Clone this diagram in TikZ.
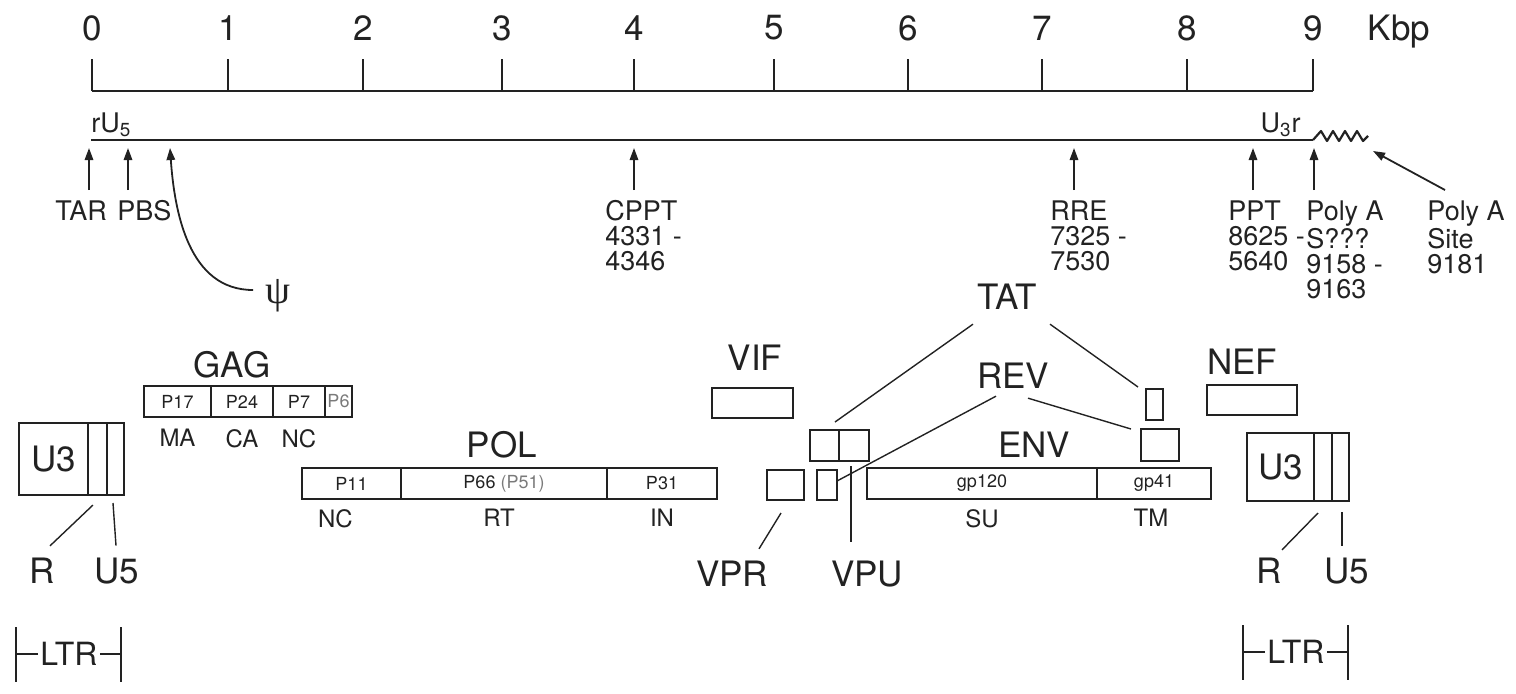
\documentclass[tikz,border=0pt]{standalone}
\usepackage{fontspec}
\setmainfont{TeX Gyre Heros}
\newfontfamily\grkfont{Liberation Serif}
\usetikzlibrary{arrows.meta,positioning}
\definecolor{ink}{HTML}{222222}
\definecolor{faint}{HTML}{7A7A7A}
\tikzset{
  gene/.style={font=\fontsize{17.5}{17.5}\selectfont, inner sep=0pt, text=ink},
  prot/.style={font=\fontsize{12}{12}\selectfont, inner sep=0pt, text=ink},
  seg/.style={rectangle, draw=ink, line width=1pt, outer sep=0pt, inner sep=0pt,
              font=\fontsize{9}{9}\selectfont, text=ink, minimum height=15.5pt},
  site/.style={font=\fontsize{13.5}{12.5}\selectfont, align=left, inner sep=0pt,
               anchor=north west, text=ink},
  arr/.style={-{Triangle[length=6pt,width=4.2pt]}, draw=ink, line width=0.9pt},
  lead/.style={draw=ink, line width=0.7pt},
}

\begin{document}
\begin{tikzpicture}[x=0.5pt, y=-0.5pt]
\useasboundingbox (0,0) rectangle (1516,693);

% kbp scale
\draw[ink, line width=1.25pt] (92,91) -- (1313,91);
\foreach \k/\x in {0/92,1/228,2/363,3/502,4/634,5/774,6/908,7/1042,8/1187,9/1313} {
  \draw[ink, line width=1pt] (\x,91) -- (\x,59);
  \node[gene] (k\k) at (\x,28) {\k};
}
\node[gene, anchor=base] (kbp) at (1399,40) {Kbp};

% provirus
\draw[ink, line width=1pt] (91,140) -- (1313,140);
\draw[ink, line width=1.1pt, line join=round] (1313,140)
  -- (1321,131) -- (1327,141) -- (1333,131) -- (1339,141) -- (1345,131)
  -- (1351,141) -- (1357,131) -- (1363,141) -- (1368,136);
\node[font=\fontsize{13.5}{13.5}\selectfont, inner sep=0pt, anchor=base west, text=ink] (ru5) at (91,132) {rU\textsubscript{5}};
\node[font=\fontsize{13.5}{13.5}\selectfont, inner sep=0pt, anchor=base east, text=ink] (u3r) at (1301,132) {U\textsubscript{3}r};

\coordinate (tarP) at (89,148);
\coordinate (pbsP) at (128,148);
\coordinate (psiP) at (170,148);
\coordinate (cpptP) at (634,148);
\coordinate (rreP) at (1074,148);
\coordinate (pptP) at (1253,148);
\coordinate (polaP) at (1314,148);
\coordinate (pasP) at (1373,151);

\node[site] (tar) at (55,200) {TAR};
\node[site] (pbs) at (117,200) {PBS};
\node[site] (cppt) at (605,200) {CPPT\\4331 -\\4346};
\node[site] (rre) at (1050,200) {RRE\\7325 -\\7530};
\node[site] (ppt) at (1228,200) {PPT\\8625 -\\5640};
\node[site] (pola) at (1306,200) {Poly A\\S???\\9158 -\\9163};
\node[site] (pas) at (1427,200) {Poly A\\Site\\9181};

\draw[arr, shorten <=5pt] (tarP |- tar.north) -- (tarP);
\draw[arr, shorten <=5pt] (pbsP |- pbs.north) -- (pbsP);
\draw[arr, shorten <=5pt] (cpptP |- cppt.north) -- (cpptP);
\draw[arr, shorten <=5pt] (rreP |- rre.north) -- (rreP);
\draw[arr, shorten <=5pt] (pptP |- ppt.north) -- (pptP);
\draw[arr, shorten <=5pt] (polaP |- pola.north) -- (polaP);
\draw[arr] ([shift={(9pt,5pt)}]pas.north west) -- (pasP);

\node[font=\grkfont\fontsize{20}{20}\selectfont, inner sep=0pt, text=ink] (psi) at (278,296) {ψ};
\draw[arr] ([shift={(-6pt,3pt)}]psi.west) to[out=180, in=-86] (psiP);

% gag
\node[gene] (gag) at (232,365) {GAG};
\node[seg, minimum width=33.5pt, anchor=north west] (p17) at (144,386) {P17};
\node[seg, minimum width=31pt, right=0pt of p17] (p24) {P24};
\node[seg, minimum width=26pt, right=0pt of p24] (p7) {P7};
\node[seg, minimum width=13.5pt, right=0pt of p7, text=faint] (p6) {P6};
\node[prot, below=6pt of p17] (ma) {MA};
\node[prot, below=6pt of p24] (ca) {CA};
\node[prot, below=6pt of p7] (ncg) {NC};

% pol
\node[gene] (pol) at (502,445) {POL};
\node[seg, minimum width=49.5pt, anchor=north west] (p11) at (302,468) {P11};
\node[seg, minimum width=103pt, right=0pt of p11] (p66) {P66 \textcolor{faint}{(P51)}};
\node[seg, minimum width=55pt, right=0pt of p66] (p31) {P31};
\node[prot, below=5pt of p11, xshift=-8pt] (ncp) {NC};
\node[prot, below=5pt of p66, xshift=-2.5pt] (rt) {RT};
\node[prot, below=5pt of p31] (in) {IN};

% accessory genes
\node[gene] (vif) at (755,358) {VIF};
\node[seg, minimum width=40.5pt, minimum height=15pt, anchor=north west] (vifbox) at (712,388) {};
\node[seg, minimum width=18.5pt, minimum height=15pt, anchor=north west] (vprbox) at (767,470) {};
\node[seg, minimum width=10pt, minimum height=15pt, anchor=north west] (vpubox) at (817,470) {};
\node[seg, minimum width=14.5pt, anchor=north west] (tr1a) at (810,430) {};
\node[seg, minimum width=15pt, right=0pt of tr1a] (tr1b) {};
\node[seg, minimum width=8.5pt, anchor=north west] (tat2) at (1146,389) {};
\node[seg, minimum width=19pt, minimum height=16pt, anchor=north west] (rev2) at (1141,429) {};
\node[gene] (tat) at (1007,297) {TAT};
\node[gene] (rev) at (1013,376) {REV};
\node[gene] (vprL) at (732,574) {VPR};
\node[gene] (vpuL) at (867,574) {VPU};
\node[gene] (nef) at (1242,362) {NEF};
\node[seg, minimum width=45pt, minimum height=15pt, anchor=north west] (nefbox) at (1207,385) {};

\draw[lead] ([shift={(-17pt,-7pt)}]tat.south) -- ([shift={(5.25pt,4pt)}]tr1a.north);
\draw[lead] ([shift={(21.5pt,-7pt)}]tat.south) -- ([shift={(-4pt,1pt)}]tat2.north west);
\draw[lead] ([shift={(-8.5pt,-3.5pt)}]rev.south) -- ([shift={(0pt,2pt)}]vpubox.east);
\draw[lead] ([shift={(7.5pt,-4.5pt)}]rev.south) -- ([shift={(-5pt,0pt)}]rev2.north west);
\draw[lead] ([shift={(-1.5pt,-2.5pt)}]tr1b.south) -- ([shift={(-8pt,9.5pt)}]vpuL.north);
\draw[lead] ([shift={(-2.25pt,-6.5pt)}]vprbox.south) -- ([shift={(13.5pt,6pt)}]vprL.north);

% env
\node[gene] (env) at (1034,445) {ENV};
\node[seg, minimum width=115pt, anchor=north west] (gp120) at (867,468) {gp120};
\node[seg, minimum width=57pt, right=0pt of gp120] (gp41) {gp41};
\node[prot, below=5pt of gp120] (su) {SU};
\node[prot, below=5pt of gp41, xshift=-1.5pt] (tm) {TM};

% 5' LTR
\node[seg, font=\fontsize{17.5}{17.5}\selectfont, minimum width=34.5pt, minimum height=36pt, anchor=north west] (ltrAu3) at (19,423) {U3};
\node[seg, minimum width=9.5pt, minimum height=36pt, right=0pt of ltrAu3] (ltrAr) {};
\node[seg, minimum width=8.5pt, minimum height=36pt, right=0pt of ltrAr] (ltrAu5) {};
\node[gene] (rA) at (42,571) {R};
\node[gene] (u5A) at (117,571) {U5};
\draw[lead] ([shift={(-2.25pt,-5pt)}]ltrAr.south) -- ([shift={(4pt,6pt)}]rA.north);
\draw[lead] ([shift={(-1.25pt,-4pt)}]ltrAu5.south) -- ([shift={(-0.5pt,6pt)}]u5A.north);
\node[font=\fontsize{16}{16}\selectfont, inner sep=0pt, text=ink] (ltrA) at (69,654) {LTR};
\coordinate (ltrA-l) at (16,654);
\coordinate (ltrA-r) at (121,654);
\draw[lead, shorten <=1pt] (ltrA.west) -- (ltrA-l);
\draw[lead, shorten <=1pt] (ltrA.east) -- (ltrA-r);
\draw[ink, line width=1.2pt] ([yshift=13.5pt]ltrA-l) -- ([yshift=-14pt]ltrA-l);
\draw[ink, line width=1.2pt] ([yshift=13.5pt]ltrA-r) -- ([yshift=-14pt]ltrA-r);

% 3' LTR
\node[seg, font=\fontsize{17.5}{17.5}\selectfont, minimum width=33.5pt, minimum height=34pt, anchor=north west] (ltrBu3) at (1247,433) {U3};
\node[seg, minimum width=9pt, minimum height=34pt, right=0pt of ltrBu3] (ltrBr) {};
\node[seg, minimum width=8.5pt, minimum height=34pt, right=0pt of ltrBr] (ltrBu5) {};
\node[gene] (rB) at (1269,571) {R};
\node[gene] (u5B) at (1347,571) {U5};
\draw[lead] ([shift={(-2.5pt,-6pt)}]ltrBr.south) -- ([shift={(6.5pt,4pt)}]rB.north);
\draw[lead] ([shift={(0.75pt,-5.5pt)}]ltrBu5.south) -- ([shift={(-2.5pt,6pt)}]u5B.north);
\node[font=\fontsize{16}{16}\selectfont, inner sep=0pt, text=ink] (ltrB) at (1296,652) {LTR};
\coordinate (ltrB-l) at (1243,652);
\coordinate (ltrB-r) at (1348,652);
\draw[lead, shorten <=1pt] (ltrB.west) -- (ltrB-l);
\draw[lead, shorten <=1pt] (ltrB.east) -- (ltrB-r);
\draw[ink, line width=1.2pt] ([yshift=13.5pt]ltrB-l) -- ([yshift=-14pt]ltrB-l);
\draw[ink, line width=1.2pt] ([yshift=13.5pt]ltrB-r) -- ([yshift=-14pt]ltrB-r);
\end{tikzpicture}
\end{document}
